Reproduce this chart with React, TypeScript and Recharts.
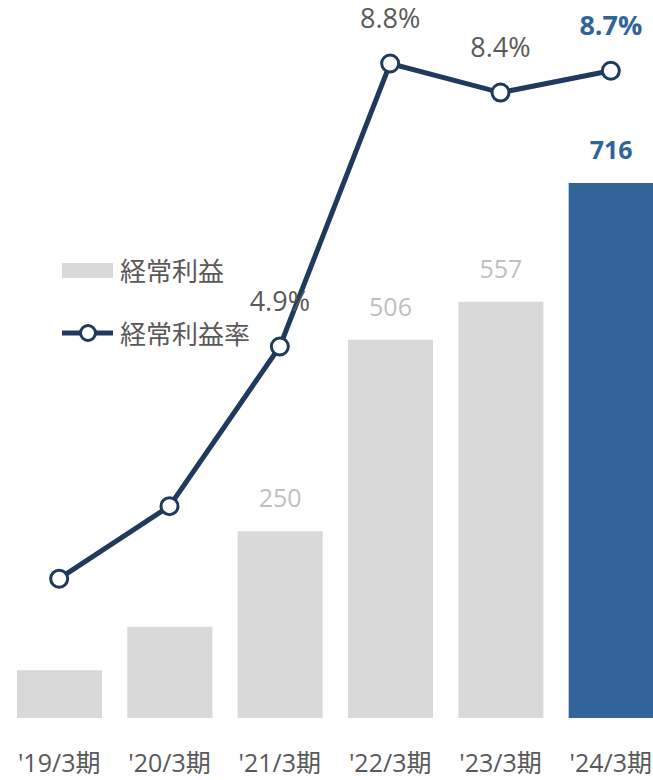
import { Bar, Cell, ComposedChart, LabelList, Line, XAxis, YAxis } from "recharts";

const categories = ["'19/3期", "'20/3期", "'21/3期", "'22/3期", "'23/3期", "'24/3期"];
const ordinaryProfit = [64, 122, 250, 506, 557, 716];
const profitRate = [1.7, 2.7, 4.9, 8.8, 8.4, 8.7];
const barLabels = ["", "", "250", "506", "557", "716"];
const rateLabels = ["", "", "4.9%", "8.8%", "8.4%", "8.7%"];

const data = categories.map((name, i) => ({
  name,
  profit: ordinaryProfit[i],
  rate: profitRate[i],
}));

const FONT = "'Open Sans', 'Noto Sans CJK JP', sans-serif";
const GRAY_BAR = "#d9d9d9";
const BLUE = "#31659a";
const NAVY = "#1f3a5c";
const last = categories.length - 1;

const Tick = (props: any) => {
  const { x, y, payload } = props;
  return (
    <text x={x} y={y + 46} textAnchor="middle" fill="#595959" fontSize={25} fontFamily={FONT}>
      {payload.value}
    </text>
  );
};

const BarLabel = (props: any) => {
  const { x, y, width, index } = props;
  const text = barLabels[index];
  if (!text) return null;
  const isLast = index === last;
  return (
    <text
      x={x + width / 2}
      y={y - 24}
      textAnchor="middle"
      fill={isLast ? BLUE : "#bfbfbf"}
      fontWeight={isLast ? 700 : 400}
      fontSize={25}
      fontFamily={FONT}
    >
      {text}
    </text>
  );
};

const RateLabel = (props: any) => {
  const { x, y, index } = props;
  const text = rateLabels[index];
  if (!text) return null;
  const isLast = index === last;
  return (
    <text
      x={x}
      y={y - 36}
      textAnchor="middle"
      fill={isLast ? BLUE : "#595959"}
      fontWeight={isLast ? 700 : 400}
      fontSize={27}
      fontFamily={FONT}
    >
      {text}
    </text>
  );
};

const ChartLegend = () => (
  <div
    style={{
      position: "absolute",
      left: 62,
      top: 253,
      fontFamily: FONT,
      fontSize: 26,
      color: "#595959",
    }}
  >
    <div style={{ display: "flex", alignItems: "center", height: 34 }}>
      <span style={{ display: "inline-block", width: 51, height: 15, background: GRAY_BAR, marginRight: 7 }} />
      経常利益
    </div>
    <div style={{ display: "flex", alignItems: "center", height: 34, marginTop: 29 }}>
      <svg width={51} height={22} style={{ marginRight: 7 }}>
        <line x1={0} y1={11} x2={51} y2={11} stroke={NAVY} strokeWidth={5} />
        <circle cx={26} cy={11} r={7.5} fill="#fff" stroke={NAVY} strokeWidth={3} />
      </svg>
      経常利益率
    </div>
  </div>
);

export default function App() {
  return (
    <div style={{ position: "absolute", left: 0, top: 0, width: 653, height: 780, overflow: "hidden" }}>
      <ComposedChart width={670} height={780} data={data} margin={{ top: 20, right: 4, left: 4, bottom: 0 }}>
        <XAxis dataKey="name" axisLine={false} tickLine={false} height={62} tick={<Tick />} interval={0} />
        <YAxis yAxisId="bar" hide domain={[0, 934]} />
        <YAxis yAxisId="rate" hide orientation="right" domain={[-0.22, 9.4]} />
        <Bar yAxisId="bar" dataKey="profit" barSize={85} isAnimationActive={false}>
          {data.map((d, i) => (
            <Cell key={d.name} fill={i === last ? BLUE : GRAY_BAR} />
          ))}
          <LabelList dataKey="profit" content={<BarLabel />} />
        </Bar>
        <Line
          yAxisId="rate"
          dataKey="rate"
          stroke={NAVY}
          strokeWidth={5}
          dot={{ r: 8.5, fill: "#fff", stroke: NAVY, strokeWidth: 3 }}
          activeDot={false}
          isAnimationActive={false}
        >
          <LabelList dataKey="rate" content={<RateLabel />} />
        </Line>
      </ComposedChart>
      <ChartLegend />
    </div>
  );
}
